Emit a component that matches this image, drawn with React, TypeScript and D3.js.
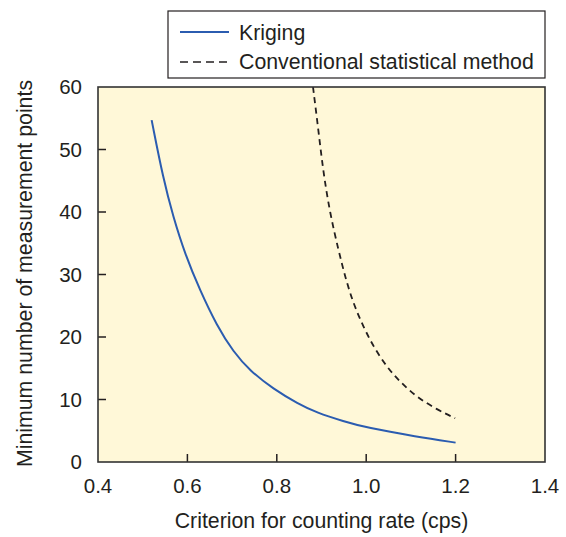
import React from 'react';
import * as d3 from 'd3';

const krigingX = [0.52, 0.546, 0.568, 0.595, 0.628, 0.666, 0.703, 0.74, 0.792, 0.848, 0.889, 0.95, 1.0, 1.113, 1.2];
const krigingY = [54.7, 45.3, 39.3, 33.2, 27.5, 21.8, 17.6, 14.6, 11.7, 9.3, 7.9, 6.5, 5.5, 4.05, 3.1];

const convX = [0.881, 0.893, 0.904, 0.919, 0.938, 0.953, 0.971, 0.994, 1.016, 1.046, 1.076, 1.113, 1.158, 1.199];
const convY = [60, 53.1, 46.4, 39.8, 33.9, 29.6, 25.4, 21.6, 18.5, 15.2, 12.8, 10.4, 8.4, 7.0];

const xTicks = [0.4, 0.6, 0.8, 1.0, 1.2, 1.4];
const yTicks = [0, 10, 20, 30, 40, 50, 60];

const seriesNames = ['Kriging', 'Conventional statistical method'];

const W = 566, H = 537;
const margin = { top: 87, right: 21, bottom: 75, left: 98 };
const font = '"Liberation Sans", Arial, Helvetica, sans-serif';
const ink = '#231f20';

export default function App() {
  const iw = W - margin.left - margin.right;
  const ih = H - margin.top - margin.bottom;

  const x = d3.scaleLinear().domain([0.4, 1.4]).range([0, iw]);
  const y = d3.scaleLinear().domain([0, 60]).range([ih, 0]);

  const line = d3.line<[number, number]>()
    .x(d => x(d[0]))
    .y(d => y(d[1]))
    .curve(d3.curveBasis);

  const kriging = krigingX.map((v, i) => [v, krigingY[i]] as [number, number]);
  const conv = convX.map((v, i) => [v, convY[i]] as [number, number]);

  return (
    <svg width={W} height={H} style={{ position: 'absolute', left: 0, top: 0, background: '#fff' }}>
      {/* legend */}
      <g transform="translate(168,11)">
        <rect x={0} y={0} width={377} height={67} fill="#fff" stroke={ink} strokeWidth={1.2} />
        <line x1={12} x2={61} y1={21} y2={21} stroke="#2b5cb0" strokeWidth={1.8} />
        <text x={71} y={29} fontFamily={font} fontSize={21.3} fill={ink}>{seriesNames[0]}</text>
        <line x1={12} x2={61} y1={51} y2={51} stroke={ink} strokeWidth={1.6} strokeDasharray="8,5" />
        <text x={71} y={57.5} fontFamily={font} fontSize={21.3} fill={ink}>{seriesNames[1]}</text>
      </g>

      <g transform={`translate(${margin.left},${margin.top})`}>
        <rect x={0} y={0} width={iw} height={ih} fill="#fff8d8" />

        {xTicks.slice(1, -1).map(t => (
          <line key={t} x1={x(t)} x2={x(t)} y1={ih} y2={ih - 8} stroke={ink} strokeWidth={1.5} />
        ))}
        {yTicks.slice(1, -1).map(t => (
          <line key={t} x1={0} x2={8} y1={y(t)} y2={y(t)} stroke={ink} strokeWidth={1.5} />
        ))}

        <path d={line(kriging) ?? ''} fill="none" stroke="#2b5cb0" strokeWidth={2} />
        <path d={line(conv) ?? ''} fill="none" stroke={ink} strokeWidth={1.8} strokeDasharray="6,4.5" />

        <rect x={0} y={0} width={iw} height={ih} fill="none" stroke="#333" strokeWidth={1.6} />

        {xTicks.map(t => (
          <text key={t} x={x(t)} y={ih + 31} textAnchor="middle" fontFamily={font} fontSize={20.5} fill={ink}>
            {t.toFixed(1)}
          </text>
        ))}
        {yTicks.map(t => (
          <text key={t} x={-16} y={y(t) + 7} textAnchor="end" fontFamily={font} fontSize={20.5} fill={ink}>
            {t}
          </text>
        ))}

        <text x={iw / 2} y={ih + 66} textAnchor="middle" fontFamily={font} fontSize={21.3} fill={ink}>
          Criterion for counting rate (cps)
        </text>
        <text transform={`translate(${-66},${ih / 2 - 1}) rotate(-90)`} textAnchor="middle" fontFamily={font} fontSize={21.3} fill={ink}>
          Minimum number of measurement points
        </text>
      </g>
    </svg>
  );
}
